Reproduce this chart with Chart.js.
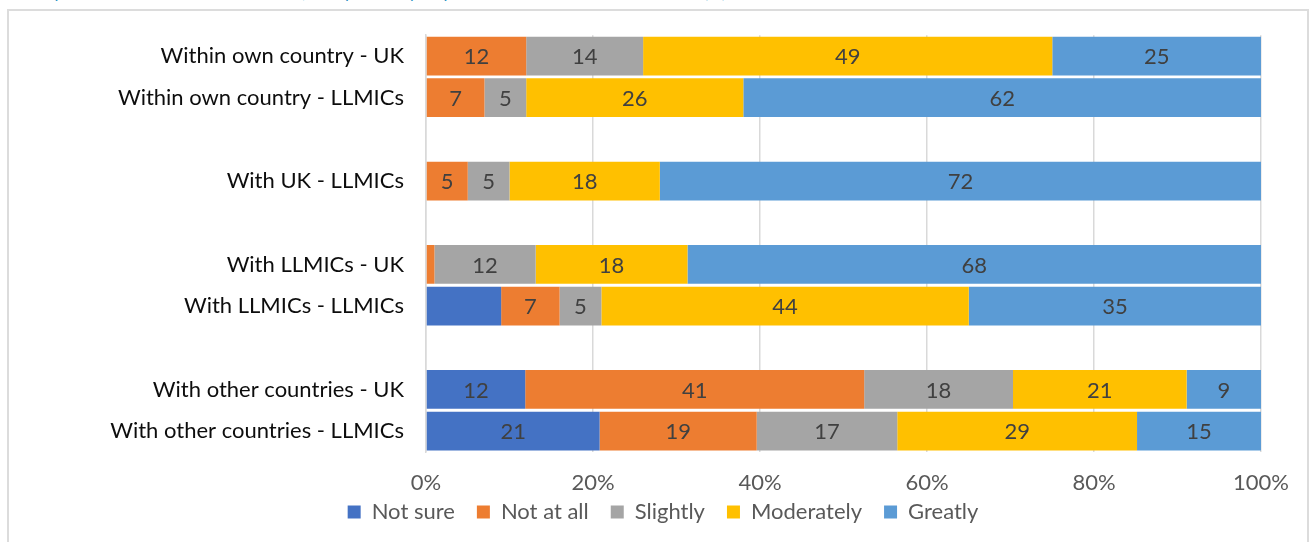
<!DOCTYPE html>
<html>
<head>
<meta charset="utf-8">
<script src="https://cdn.jsdelivr.net/npm/chart.js@4.4.1/dist/chart.umd.min.js"></script>
<style>
  html, body { margin: 0; padding: 0; background: #fff; overflow: hidden; }
  #caption {
    position: absolute; left: 36px; top: -19px; white-space: nowrap; line-height: 20px;
    font: 17px Lato, sans-serif; color: #2a93c4;
  }
  #frame {
    position: absolute; left: 7px; top: 9px; width: 1298px; height: 600px;
    border: 2px solid #dcdcdc;
  }
  #wrap { position: absolute; left: 0; top: 0; width: 1311px; height: 542px; }
</style>
</head>
<body>
<div id="caption">Impact of the work on collaboration, as reported by respondents in the UK and in LLMICs (%)</div>
<div id="frame"></div>
<div id="wrap"><canvas id="myChart"></canvas></div>
<script>
// rows top to bottom, empty strings are spacer rows
const rows = [
    'Within own country - UK',
    'Within own country - LLMICs',
    '',
    'With UK - LLMICs',
    '',
    'With LLMICs - UK',
    'With LLMICs - LLMICs',
    '',
    'With other countries - UK',
    'With other countries - LLMICs'
];

const seriesNames = ['Not sure', 'Not at all', 'Slightly', 'Moderately', 'Greatly'];
const seriesColors = ['#4472C4', '#ED7D31', '#A5A5A5', '#FFC000', '#5B9BD5'];

// percentages per row (null = spacer)
const notSure    = [0,  0,  null, 0,  null, 0,  9,  null, 12, 21];
const notAtAll   = [12, 7,  null, 5,  null, 1,  7,  null, 41, 19];
const slightly   = [14, 5,  null, 5,  null, 12, 5,  null, 18, 17];
const moderately = [49, 26, null, 18, null, 18, 44, null, 21, 29];
const greatly    = [25, 62, null, 72, null, 68, 35, null, 9,  15];

// segments drawn without a number: [series, row]
const unlabelled = [[0, 6], [1, 5]];

const xTicks = [0, 20, 40, 60, 80, 100];

const allSeries = [notSure, notAtAll, slightly, moderately, greatly];

// 100% stacked: each row scaled to its own total
const rowTotals = rows.map((r, i) => allSeries.reduce((s, arr) => s + (arr[i] || 0), 0));

const datasets = allSeries.map((arr, k) => ({
    label: seriesNames[k],
    raw: arr,
    data: arr.map((v, i) => v === null ? null : v / rowTotals[i] * 100),
    backgroundColor: seriesColors[k],
    borderWidth: 0,
    categoryPercentage: 1,
    barPercentage: 0.93
}));

// writes the value in the middle of each segment
const segmentLabels = {
    id: 'segmentLabels',
    afterDatasetsDraw(chart) {
        const ctx = chart.ctx;
        ctx.save();
        ctx.font = '22px Lato, sans-serif';
        ctx.fillStyle = '#404040';
        ctx.textAlign = 'center';
        ctx.textBaseline = 'middle';
        chart.data.datasets.forEach((ds, k) => {
            const meta = chart.getDatasetMeta(k);
            meta.data.forEach((bar, i) => {
                const v = ds.raw[i];
                if (!v) return;
                if (unlabelled.some(p => p[0] === k && p[1] === i)) return;
                ctx.fillText(String(v), (bar.x + bar.base) / 2, bar.y + 1);
            });
        });
        ctx.restore();
    }
};

// legend keeps wide gaps between items but sits closer to the axis
const LEGEND_PAD = 22;
const legendSpacing = {
    id: 'legendSpacing',
    beforeLayout(chart) {
        const lg = chart.legend;
        if (!lg || lg._trimmed) return;
        const fit = lg.fit;
        lg.fit = function () {
            fit.call(this);
            this.height -= 4;
        };
        lg._trimmed = true;
    },
    afterLayout(chart) {
        const lg = chart.legend;
        const shift = 512 - (lg.top + LEGEND_PAD + 11);
        lg.top += shift;
        lg.bottom += shift;
    }
};

const ctx = document.getElementById('myChart');
new Chart(ctx, {
    type: 'bar',
    data: { labels: rows, datasets: datasets },
    options: {
        indexAxis: 'y',
        responsive: true,
        maintainAspectRatio: false,
        animation: false,
        layout: { padding: { top: 33, right: 49, left: 64, bottom: 0 } },
        scales: {
            x: {
                stacked: true,
                min: 0,
                max: 100,
                afterBuildTicks: (scale) => { scale.ticks = xTicks.map(v => ({ value: v })); },
                afterFit: (scale) => { scale.height = 40; },
                ticks: {
                    callback: (v) => v + '%',
                    color: '#595959',
                    font: { family: 'Lato', size: 22, lineHeight: '18px' },
                    padding: 22,
                    maxRotation: 0
                },
                grid: { color: '#d9d9d9', lineWidth: 1.5, drawTicks: false },
                border: { display: false }
            },
            y: {
                stacked: true,
                afterFit: (scale) => { scale.width = 362; },
                ticks: {
                    color: '#0d0d0d',
                    font: { family: 'Lato', size: 22 },
                    padding: 22,
                    autoSkip: false
                },
                grid: { display: false, drawTicks: false },
                border: { display: true, color: '#d9d9d9', width: 1.5 }
            }
        },
        plugins: {
            legend: {
                position: 'bottom',
                labels: {
                    color: '#595959',
                    font: { family: 'Lato', size: 22 },
                    boxWidth: 13,
                    boxHeight: 13,
                    padding: LEGEND_PAD
                }
            },
            tooltip: { enabled: false }
        }
    },
    plugins: [segmentLabels, legendSpacing]
});
</script>
</body>
</html>
